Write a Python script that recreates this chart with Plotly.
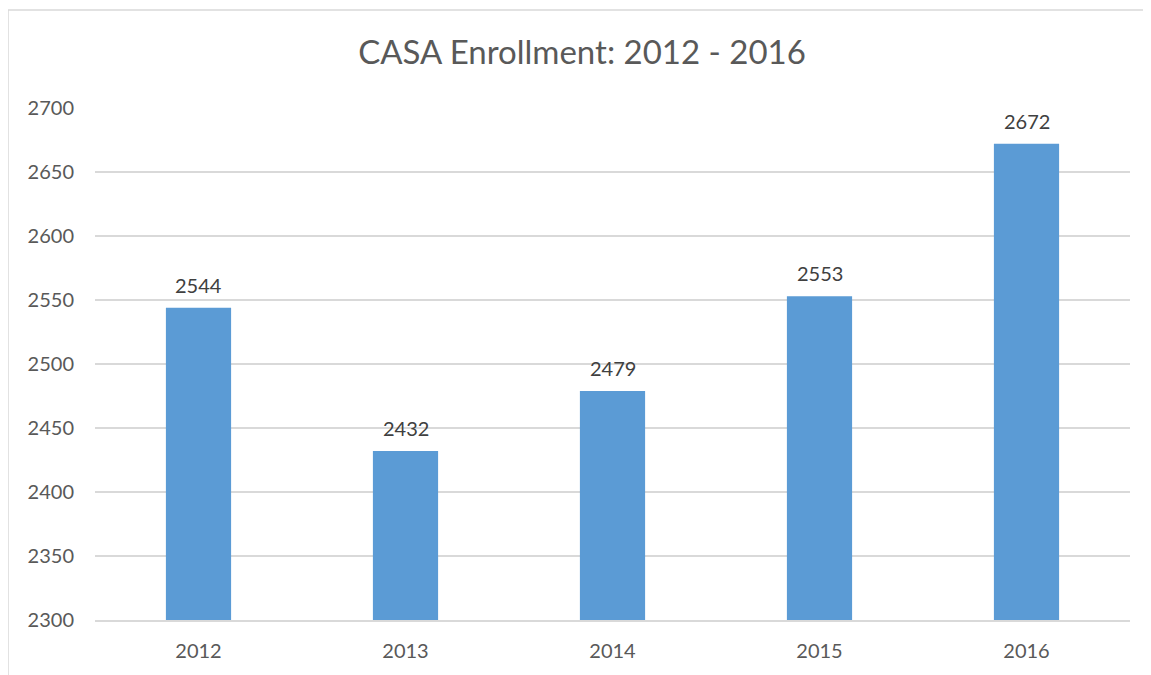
import plotly.graph_objects as go

years = ["2012", "2013", "2014", "2015", "2016"]
enrollment = [2544, 2432, 2479, 2553, 2672]
y_ticks = [2300, 2350, 2400, 2450, 2500, 2550, 2600, 2650, 2700]

# page body has an 8px margin, so the figure is laid out 8px smaller
W, H = 1143, 667
ml, mr, mt, mb = 87, 21, 100, 55
pw, ph = W - ml - mr, H - mt - mb

FONT = "Lato, Calibri, sans-serif"

fig = go.Figure()
fig.add_trace(go.Bar(
    x=years, y=enrollment,
    marker=dict(color="#5B9BD5", line=dict(width=0)),
    hoverinfo="x+y",
))

for i, v in enumerate(enrollment):
    fig.add_annotation(x=i, y=v, text=str(v), showarrow=False,
                       xref="x", yref="y",
                       yanchor="bottom", yshift=9,
                       font=dict(family=FONT, size=20, color="#404040"))

# outer chart border: left and top edges only (others run off the page)
fig.add_shape(type="line", xref="paper", yref="paper",
              x0=(0 - ml) / pw, x1=(0 - ml) / pw,
              y0=-(mb + 20) / ph, y1=1 + (mt - 2) / ph,
              line=dict(color="#D9D9D9", width=1.5), layer="below")
fig.add_shape(type="line", xref="paper", yref="paper",
              x0=(0 - ml) / pw, x1=(W + 50 - ml) / pw,
              y0=1 + (mt - 2) / ph, y1=1 + (mt - 2) / ph,
              line=dict(color="#D9D9D9", width=1.5), layer="below")

fig.update_layout(
    width=W, height=H,
    margin=dict(l=ml, r=mr, t=mt, b=mb),
    paper_bgcolor="white", plot_bgcolor="white",
    showlegend=False,
    title=dict(text="CASA Enrollment: 2012 - 2016", x=574 / W, xanchor="center",
               y=1 - 44 / H, yanchor="middle",
               font=dict(family=FONT, size=33, color="#595959")),
    font=dict(family=FONT, size=20, color="#595959"),
    bargap=0.685,
)
fig.update_yaxes(range=[2300, 2700], tickvals=y_ticks, showgrid=True, gridcolor="#D9D9D9",
                 gridwidth=1.5, zeroline=False, showline=False, ticks="", automargin=False,
                 ticklabelstandoff=20, tickfont=dict(family=FONT, size=20, color="#595959"))
fig.update_xaxes(type="category", range=[-0.5, len(years) - 0.5], showline=True,
                 linecolor="#D9D9D9", linewidth=1.5, ticks="", automargin=False,
                 ticklabelstandoff=12, tickfont=dict(family=FONT, size=20, color="#595959"))

fig.write_html("out.html", post_script="document.body.style.overflow='hidden';")
